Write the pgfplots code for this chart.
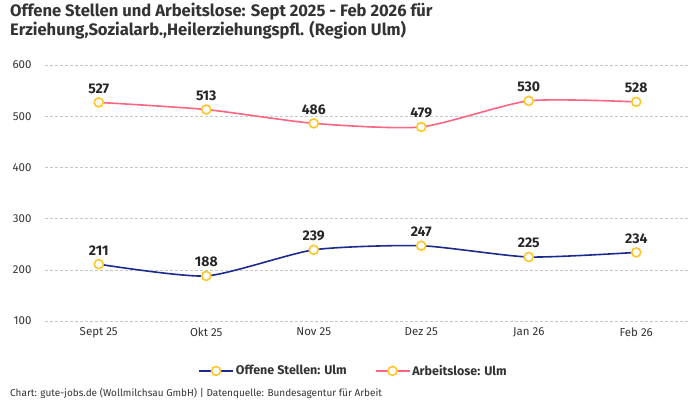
\documentclass[border=0pt]{standalone}
\usepackage{fontspec}
\setmainfont{Fira Sans}
\usepackage{pgfplots}
\pgfplotsset{compat=1.18}
\definecolor{navy}{HTML}{1B2A8C}
\definecolor{rosa}{HTML}{FF6482}
\definecolor{gelb}{HTML}{FFC629}
\definecolor{txt}{HTML}{333333}

\begin{document}
\begin{tikzpicture}[x=1pt,y=1pt]
\path (0,0) rectangle (700,400);
\node[anchor=north west, align=left, inner sep=0pt, text=txt,
  font=\bfseries\fontsize{16.6}{19}\selectfont] at (10,397)
  {Offene Stellen und Arbeitslose: Sept 2025 - Feb 2026 für\\
   Erziehung,Sozialarb.,Heilerziehungspfl. (Region Ulm)};
\node[anchor=west, inner sep=0pt, text=txt, font=\fontsize{10}{11}\selectfont]
  at (10,7) {Chart: gute-jobs.de (Wollmilchsau GmbH) | Datenquelle: Bundesagentur für Arbeit};
\begin{axis}[
  at={(45pt,79pt)}, anchor=south west, scale only axis,
  width=645pt, height=256pt,
  xmin=-0.5, xmax=5.5, ymin=100, ymax=600,
  xtick={0,1,2,3,4,5},
  xticklabels={Sept 25,Okt 25,Nov 25,Dez 25,Jan 26,Feb 26},
  ytick={100,200,300,400,500,600},
  axis line style={draw=none},
  major tick style={draw=none},
  ymajorgrids, grid style={densely dashed, black!22},
  tick label style={text=txt, font=\fontsize{11.5}{13}\selectfont},
  /pgf/number format/assume math mode=true,
  yticklabel style={xshift=-10pt},
  xticklabel style={yshift=-3pt},
  every axis plot/.append style={line width=1.6pt, smooth, tension=0.38,
    mark=*, mark size=4.5pt,
    mark options={draw=gelb, fill=white, line width=1.6pt, solid}},
  nodes near coords,
  every node near coord/.append style={text=black!85, yshift=5pt,
    font=\bfseries\fontsize{14}{16}\selectfont},
  legend columns=2,
  legend style={draw=none, at={(0.5,-0.195)}, anchor=center, xshift=-14pt,
    font=\bfseries\fontsize{12.5}{15}\selectfont, text=txt,
    /tikz/every even column/.append style={column sep=26pt}},
  legend image code/.code={
    \draw[#1, mark=none] (0pt,0pt) -- (34pt,0pt);
    \draw[#1] plot coordinates {(17pt,0pt)};
  },
]
\addplot[navy] coordinates {(0,211) (1,188) (2,239) (3,247) (4,225) (5,234)};
\addlegendentry{Offene Stellen: Ulm}
\addplot[rosa] coordinates {(0,527) (1,513) (2,486) (3,479) (4,530) (5,528)};
\addlegendentry{Arbeitslose: Ulm}
\end{axis}
\end{tikzpicture}
\end{document}
